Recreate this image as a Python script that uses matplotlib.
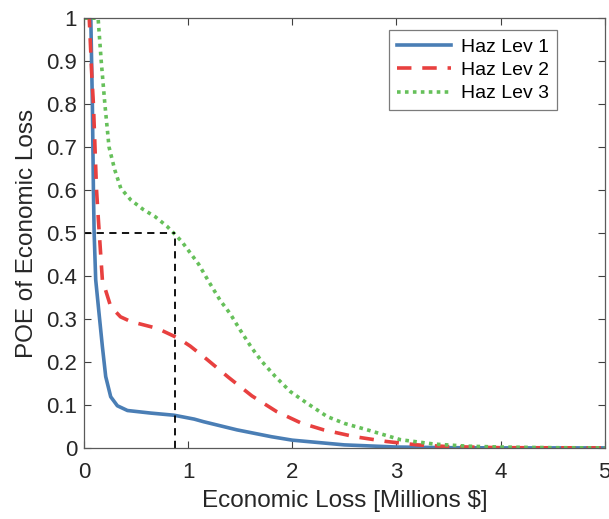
import numpy as np
import matplotlib
matplotlib.use('Agg')
from matplotlib import pyplot as plt

# values
lev1_x = [0, 0.065, 0.08, 0.09, 0.097, 0.112, 0.144, 0.176, 0.208, 0.256, 0.32, 0.417,
          0.641, 0.865, 1.058, 1.147, 1.468, 1.8, 2.0, 2.5, 3.0, 3.5, 4.0, 5.0]
lev1_y = [1, 1, 0.8, 0.6, 0.5, 0.391, 0.313, 0.236, 0.166, 0.119, 0.098, 0.087,
          0.081, 0.076, 0.067, 0.061, 0.042, 0.026, 0.018, 0.007, 0.002, 0.0005, 0, 0]

lev2_x = [0, 0.05, 0.074, 0.09, 0.105, 0.12, 0.138, 0.176, 0.256, 0.35, 0.449, 0.705,
          0.907, 1.019, 1.18, 1.388, 1.612, 1.846, 2.083, 2.3, 2.6, 2.9, 3.2, 3.5,
          4.0, 5.0]
lev2_y = [1, 1, 0.87, 0.8, 0.7, 0.6, 0.53, 0.391, 0.329, 0.305, 0.294, 0.278,
          0.255, 0.237, 0.206, 0.164, 0.121, 0.085, 0.058, 0.042, 0.026, 0.015, 0.007,
          0.003, 0.0005, 0]

lev3_x = [0, 0.135, 0.165, 0.2, 0.24, 0.295, 0.353, 0.449, 0.567, 0.683, 0.795, 0.881,
          0.939, 1.099, 1.205, 1.308, 1.404, 1.5, 1.612, 1.708, 1.837, 1.981, 2.141,
          2.334, 2.5, 2.72, 3.04, 3.36, 3.68, 4.0, 4.5, 5.0]
lev3_y = [1, 1, 0.9, 0.8, 0.7, 0.647, 0.604, 0.577, 0.555, 0.538, 0.516, 0.495,
          0.48, 0.428, 0.384, 0.343, 0.312, 0.274, 0.232, 0.201, 0.166, 0.131, 0.104,
          0.073, 0.057, 0.042, 0.019, 0.009, 0.004, 0.002, 0.0005, 0]

# median loss marker
median_loss = 0.875
median_poe = 0.5

labels = ['Haz Lev 1', 'Haz Lev 2', 'Haz Lev 3']
ytick_labels = ['0', '0.1', '0.2', '0.3', '0.4', '0.5', '0.6', '0.7', '0.8', '0.9', '1']

plt.rcParams['font.family'] = ['Liberation Sans', 'DejaVu Sans']

fig = plt.figure(figsize=(6.09, 5.19), dpi=100)
ax = fig.add_axes([0.138, 0.137, 0.855, 0.828])

ax.plot(lev1_x, lev1_y, color='#4A7EB5', lw=2.6, label=labels[0])
ax.plot(lev2_x, lev2_y, color='#E8403F', lw=2.6, ls=(0, (4, 3)), label=labels[1])
ax.plot(lev3_x, lev3_y, color='#66C05A', lw=2.6, ls=(0, (1, 1.2)), label=labels[2])

ax.plot([0, median_loss], [median_poe, median_poe], color='black', lw=1.3, ls=(0, (4, 3)))
ax.plot([median_loss, median_loss], [0, median_poe], color='black', lw=1.3, ls=(0, (4, 3)))

ax.set_xlim(0, 5)
ax.set_ylim(0, 1)
ax.set_xticks(np.arange(0, 6, 1))
ax.set_yticks(np.arange(0, 1.01, 0.1))
ax.set_yticklabels(ytick_labels)
ax.tick_params(direction='in', top=True, right=True, length=5, width=0.8,
               color='#404040', labelsize=16, labelcolor='#262626', pad=5)
ax.tick_params(axis='x', pad=10)
for s in ax.spines.values():
    s.set_color('#5a5a5a')
    s.set_linewidth(0.9)

ax.set_xlabel('Economic Loss [Millions $]', fontsize=17.5, color='#262626', labelpad=5)
ax.set_ylabel('POE of Economic Loss', fontsize=17.5, color='#262626', labelpad=6)

leg = ax.legend(loc='upper right', fontsize=14, frameon=True, fancybox=False,
                edgecolor='#5a5a5a', handlelength=2.8, borderpad=0.4,
                labelspacing=0.3, handletextpad=0.5, borderaxespad=0,
                bbox_to_anchor=(0.908, 0.972))
leg.get_frame().set_linewidth(0.9)

fig.savefig('out.png', dpi=100)
